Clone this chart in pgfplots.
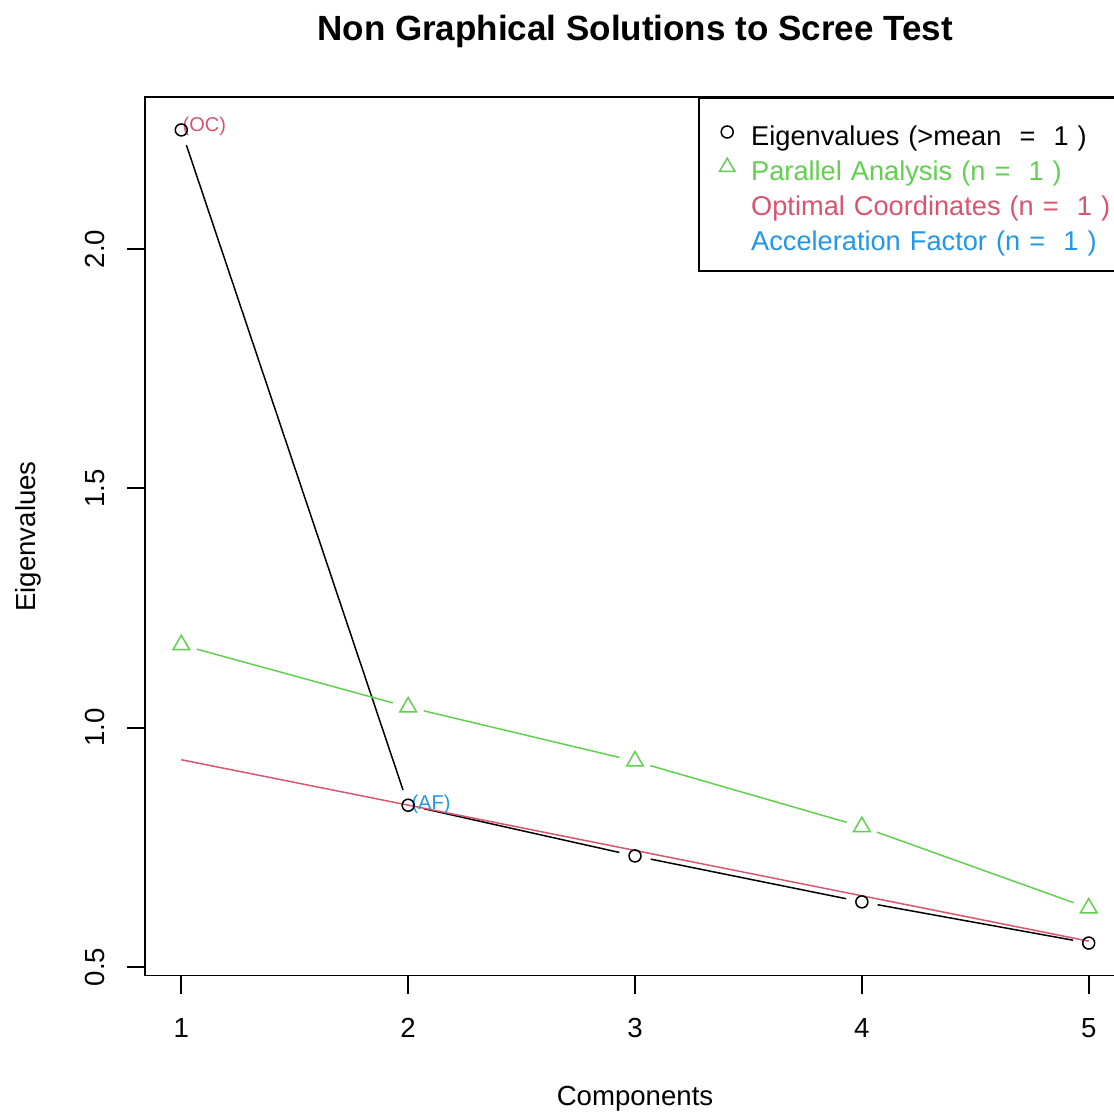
\documentclass[border=0pt]{standalone}
\usepackage{pgfplots}
\pgfplotsset{compat=1.18}
\usepackage{fontspec}
\setmainfont{Liberation Sans}
\definecolor{pagreen}{HTML}{61D04F}
\definecolor{ocred}{HTML}{D9546F}
\definecolor{afblue}{HTML}{2297E6}
\pgfplotsset{markleg/.style={legend image code/.code={%
    \path[draw=none, fill=none] (0pt,0pt) (26pt,0pt); \draw[##1] plot coordinates {(14pt,0pt)};}}}

\begin{document}
\begin{tikzpicture}
\begin{axis}[
    at={(72.5pt,68.2pt)}, anchor=south west,
    scale only axis, width=490pt, height=439.1pt,
    xmin=0.84, xmax=5.16, ymin=0.482, ymax=2.317,
    xtick={1,2,3,4,5},
    ytick={0.5,1,1.5,2},
    yticklabels={0.5,1.0,1.5,2.0},
    xtick pos=left, ytick pos=left,
    tick align=outside,
    major tick length=9pt,
    tick style={black, line width=0.9pt},
    axis line style={line width=0.9pt},
    /pgf/number format/assume math mode=true,
    ticklabel style={font=\fontsize{13.8}{16}\selectfont},
    xticklabel style={anchor=base, yshift=-22.2pt},
    yticklabel style={xshift=-11pt, rotate=90, anchor=base},
    title={Non Graphical Solutions to Scree Test},
    title style={at={(axis description cs:0.5,1)}, anchor=base, yshift=22.2pt,
        font=\bfseries\fontsize{17.5}{21}\selectfont},
    xlabel={Components},
    xlabel style={at={(axis description cs:0.5,0)}, anchor=base, yshift=-65.2pt,
        font=\fontsize{13.8}{16}\selectfont},
    ylabel={Eigenvalues},
    ylabel style={at={(axis description cs:-0.1122,0.5)}, anchor=base,
        font=\fontsize{13.8}{16}\selectfont},
    legend style={at={(1,1)}, anchor=north east, draw=black, line width=0.8pt,
        fill=white, inner xsep=0pt, inner ysep=8.15pt, row sep=0pt,
        font=\fontsize{13.6}{16}\selectfont,
        nodes={inner sep=0pt, text height=15.65pt, text depth=1.85pt,
            text width=186.5pt, align=left},
        cells={anchor=west}},
]

% eigenvalues, line segments with gaps round the points (type "b")
\addplot[black, line width=0.75pt, shorten <=8pt, shorten >=8pt, forget plot]
    coordinates {(1,2.249)(2,0.838)};
\addplot[black, line width=0.75pt, shorten <=8pt, shorten >=8pt, forget plot]
    coordinates {(2,0.838)(3,0.732)};
\addplot[black, line width=0.75pt, shorten <=8pt, shorten >=8pt, forget plot]
    coordinates {(3,0.732)(4,0.636)};
\addplot[black, line width=0.75pt, shorten <=8pt, shorten >=8pt, forget plot]
    coordinates {(4,0.636)(5,0.550)};
\addplot[black, only marks, mark=o, mark size=3pt, line width=0.75pt, forget plot]
    coordinates {(1,2.249)(2,0.838)(3,0.732)(4,0.636)(5,0.550)};

% parallel analysis
\addplot[pagreen, line width=0.75pt, shorten <=8pt, shorten >=8pt, forget plot]
    coordinates {(1,1.173)(2,1.043)};
\addplot[pagreen, line width=0.75pt, shorten <=8pt, shorten >=8pt, forget plot]
    coordinates {(2,1.043)(3,0.930)};
\addplot[pagreen, line width=0.75pt, shorten <=8pt, shorten >=8pt, forget plot]
    coordinates {(3,0.930)(4,0.793)};
\addplot[pagreen, line width=0.75pt, shorten <=8pt, shorten >=8pt, forget plot]
    coordinates {(4,0.793)(5,0.623)};
\addplot[pagreen, only marks, mark=triangle, mark size=4.8pt, line width=0.75pt, forget plot]
    coordinates {(1,1.173)(2,1.043)(3,0.930)(4,0.793)(5,0.623)};

% optimal coordinates line
\addplot[ocred, line width=0.75pt, forget plot]
    coordinates {(1,0.933)(5,0.554)};

\node[anchor=base west, inner sep=0pt, text=ocred, font=\fontsize{10}{12}\selectfont,
    xshift=0.5pt, yshift=-1pt] at (axis cs:1,2.249) {(OC)};
\node[anchor=base west, inner sep=0pt, text=afblue, font=\fontsize{10}{12}\selectfont,
    xshift=1.5pt, yshift=-2pt] at (axis cs:2,0.838) {(AF)};

\addlegendimage{black, only marks, mark=o, mark size=3pt, line width=0.75pt, markleg}
\addlegendentry{Eigenvalues (>mean~ =~ 1 )}
\addlegendimage{pagreen, only marks, mark=triangle, mark size=4.4pt, line width=0.75pt, markleg}
\addlegendentry{\textcolor{pagreen}{Parallel Analysis (n =~ 1 )}}
\addlegendimage{empty legend}
\addlegendentry{\textcolor{ocred}{Optimal Coordinates (n =~ 1 )}}
\addlegendimage{empty legend}
\addlegendentry{\textcolor{afblue}{Acceleration Factor (n =~ 1 )}}

\end{axis}
\pgfresetboundingbox
\useasboundingbox (0,0) rectangle (557pt,556pt);
\end{tikzpicture}
\end{document}
